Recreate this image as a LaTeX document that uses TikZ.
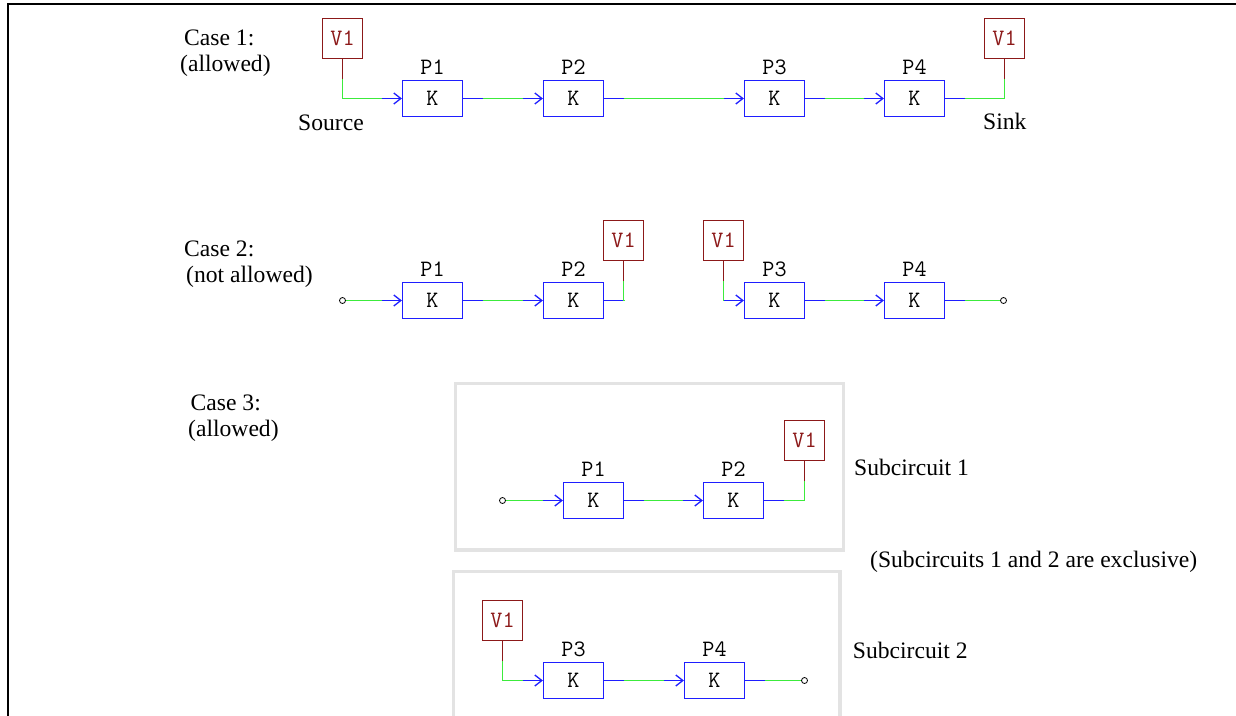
\documentclass[tikz,border=0pt]{standalone}
\usepackage{fontspec}
\setmainfont{Liberation Serif}
\usetikzlibrary{arrows.meta}

\definecolor{wireblue}{RGB}{30,30,255}
\definecolor{wiregreen}{RGB}{60,235,60}
\definecolor{vred}{RGB}{140,25,25}
\definecolor{framegray}{RGB}{227,227,227}

\tikzset{
  mono/.style={font=\ttfamily\fontsize{23.5}{24}\selectfont},
  kbox/.style={mono, draw=wireblue, line width=1.3pt, minimum width=60pt, minimum height=36pt,
    inner sep=0pt},
  vbox/.style={mono, draw=vred, line width=1.3pt, minimum width=40pt, minimum height=40pt,
    inner sep=0pt, text=vred},
  plabel/.style={mono, anchor=base, inner sep=0pt},
  txt/.style={anchor=base west, inner sep=0pt, font=\fontsize{23.6}{26}\selectfont},
  termdot/.style={circle, draw=black, line width=0.8pt, minimum size=6pt, inner sep=0pt},
  bwire/.style={draw=wireblue, line width=1.3pt},
  gwire/.style={draw=wiregreen, line width=1.3pt},
  rwire/.style={draw=vred, line width=1.3pt},
  feed/.style={-{Straight Barb[length=7pt,width=11pt]}},
  subframe/.style={draw=framegray, line width=3.3pt},
  border/.style={draw=black, line width=1.5pt}
}

% a processing block with its name above
\newcommand\kblock[4]{%
  \node[kbox] (#1) at (#2,#3) {K};
  \node[plabel] (#1l) at ([yshift=24.5pt]#1.center) {#4};}

% straight link between two blocks
\newcommand\link[2]{%
  \draw[bwire] (#1.east) -- ([xshift=20pt]#1.east);
  \draw[gwire] ([xshift=20pt]#1.east) -- ([xshift=-20pt]#2.west);
  \draw[bwire,feed] ([xshift=-20pt]#2.west) -- (#2.west);}

% voltage source above-left feeding a block
\newcommand\feedin[2]{%
  \draw[rwire] (#1.south) -- ([yshift=-20pt]#1.south);
  \draw[gwire] ([yshift=-20pt]#1.south) |- ([xshift=-20pt]#2.west);
  \draw[bwire,feed] ([xshift=-20pt]#2.west) -- (#2.west);}

% block output going up into a voltage node above-right
\newcommand\feedout[2]{%
  \draw[bwire] (#1.east) -- ([xshift=20pt]#1.east);
  \draw[gwire] ([xshift=20pt]#1.east) -| ([yshift=-20pt]#2.south);
  \draw[rwire] ([yshift=-20pt]#2.south) -- (#2.south);}

% open terminal into a block
\newcommand\termin[2]{%
  \draw[gwire] (#1.east) -- ([xshift=-20pt]#2.west);
  \draw[bwire,feed] ([xshift=-20pt]#2.west) -- (#2.west);}

% block into an open terminal
\newcommand\termout[2]{%
  \draw[bwire] (#1.east) -- ([xshift=20pt]#1.east);
  \draw[gwire] ([xshift=20pt]#1.east) -- (#2.west);}

\begin{document}
\begin{tikzpicture}[x=1pt,y=-1pt]
\useasboundingbox (0,0) rectangle (1236,715);
\clip (0,0) rectangle (1236,715);

% page border
\draw[border] (8.2,716) -- (8.2,4.2) -- (1237,4.2);

% ---------------- Case 1 ----------------
\node[txt] (c1a) at (184,45) {Case 1:};
\node[txt] (c1b) at (180,71) {(allowed)};

\node[vbox] (c1src) at (342.5,38.5) {V1};
\kblock{c1p1}{432.5}{98.5}{P1}
\kblock{c1p2}{573.5}{98.5}{P2}
\kblock{c1p3}{774.5}{98.5}{P3}
\kblock{c1p4}{914.5}{98.5}{P4}
\node[vbox] (c1snk) at (1004.5,38.5) {V1};

\feedin{c1src}{c1p1}
\link{c1p1}{c1p2}
\link{c1p2}{c1p3}
\link{c1p3}{c1p4}
\feedout{c1p4}{c1snk}

\node[txt] (c1srct) at (298,130) {Source};
\node[txt] (c1snkt) at (983,129.5) {Sink};

% ---------------- Case 2 ----------------
\node[txt] (c2a) at (184,256) {Case 2:};
\node[txt] (c2b) at (186,282) {(not allowed)};

\node[termdot] (c2in) at (342.5,300.5) {};
\kblock{c2p1}{432.5}{300.5}{P1}
\kblock{c2p2}{573.5}{300.5}{P2}
\node[vbox] (c2v1) at (623.5,240.5) {V1};
\node[vbox] (c2v2) at (723.5,240.5) {V1};
\kblock{c2p3}{774.5}{300.5}{P3}
\kblock{c2p4}{914.5}{300.5}{P4}
\node[termdot] (c2out) at (1003.5,300.5) {};

\termin{c2in}{c2p1}
\link{c2p1}{c2p2}
\feedout{c2p2}{c2v1}
\feedin{c2v2}{c2p3}
\link{c2p3}{c2p4}
\termout{c2p4}{c2out}

% ---------------- Case 3 ----------------
\node[txt] (c3a) at (190.5,410) {Case 3:};
\node[txt] (c3b) at (188,436) {(allowed)};

% subcircuit 1
\draw[subframe] (455.5,383.3) rectangle (843.5,550);
\node[termdot] (s1in) at (502.5,500.5) {};
\kblock{s1p1}{593.5}{500.5}{P1}
\kblock{s1p2}{733.5}{500.5}{P2}
\node[vbox] (s1v) at (804.5,440.5) {V1};
\termin{s1in}{s1p1}
\link{s1p1}{s1p2}
\feedout{s1p2}{s1v}
\node[txt] (s1t) at (854,475) {Subcircuit 1};

\node[txt] (excl) at (870,567.5) {(Subcircuits 1 and 2 are exclusive)};

% subcircuit 2
\draw[subframe] (453.3,571.5) rectangle (840,740);
\node[vbox] (s2v) at (502.5,620.5) {V1};
\kblock{s2p3}{573.5}{680.5}{P3}
\kblock{s2p4}{714.5}{680.5}{P4}
\node[termdot] (s2out) at (804.5,680.5) {};
\feedin{s2v}{s2p3}
\link{s2p3}{s2p4}
\termout{s2p4}{s2out}
\node[txt] (s2t) at (852.7,658.5) {Subcircuit 2};

\end{tikzpicture}
\end{document}
